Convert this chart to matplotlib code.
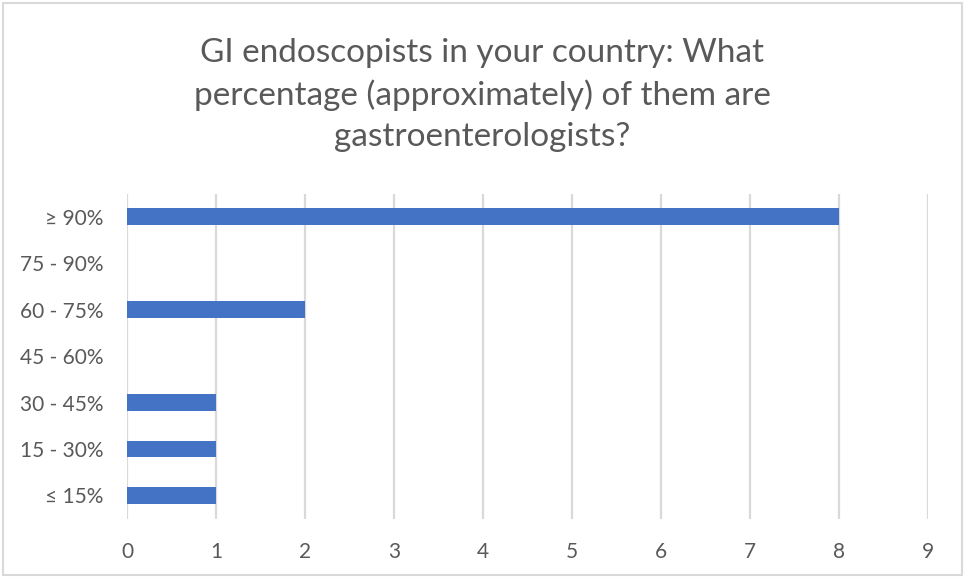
import matplotlib
matplotlib.use("Agg")
import matplotlib.pyplot as plt
from matplotlib.patches import Rectangle

categories = ["≤ 15%", "15 - 30%", "30 - 45%", "45 - 60%", "60 - 75%", "75 - 90%", "≥ 90%"]
counts = [1, 1, 1, 0, 2, 0, 8]
x_ticks = [0, 1, 2, 3, 4, 5, 6, 7, 8, 9]
title = "GI endoscopists in your country: What\npercentage (approximately) of them are\ngastroenterologists?"

plt.rcParams["font.family"] = ["Lato", "DejaVu Sans"]
text_color = "#595959"
grid_color = "#d9d9d9"
bar_color = "#4472C4"

fig = plt.figure(figsize=(9.65, 5.78), dpi=100)
ax = fig.add_axes([0.1316, 0.1026, 0.9617 - 0.1316, 0.6652 - 0.1026])

ypos = list(range(len(categories)))
ax.barh(ypos, counts, height=0.36, color=bar_color, zorder=3)

ax.set_xlim(0, 9)
ax.set_ylim(-0.5, len(categories) - 0.5)
ax.set_xticks(x_ticks)
ax.set_xticklabels([str(t) for t in x_ticks])
ax.set_yticks(ypos)
ax.set_yticklabels(categories)

ax.grid(axis="x", color=grid_color, linewidth=1.6, zorder=0)
ax.grid(axis="y", visible=False)
for s in ax.spines.values():
    s.set_visible(False)
ax.tick_params(axis="both", length=0, labelsize=15, labelcolor=text_color)
ax.tick_params(axis="x", pad=17)
ax.tick_params(axis="y", pad=17)

fig.text(0.5, 1 - 95 / 578, title, ha="center", va="center", fontsize=24,
         color=text_color, linespacing=1.45)

fig.patches.append(Rectangle((3 / 965, 3 / 578), 959 / 965, 572 / 578,
                             transform=fig.transFigure, fill=False,
                             edgecolor="#d9d9d9", linewidth=1.5))

fig.savefig("out.png", dpi=100, facecolor="white")
